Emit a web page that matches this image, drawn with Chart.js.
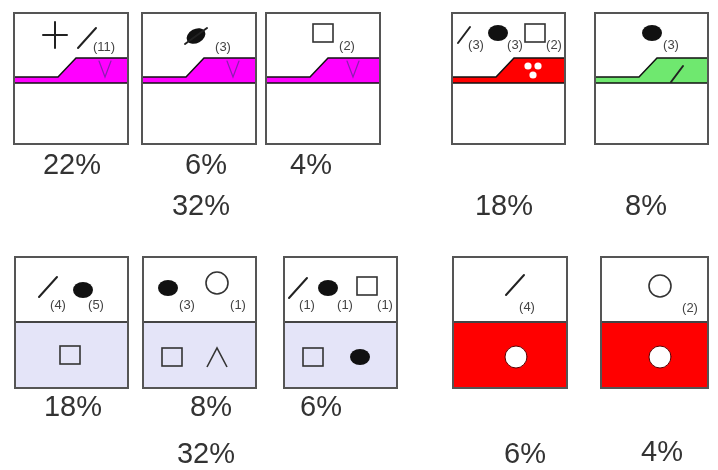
<!DOCTYPE html>
<html lang="en">
<head>
<meta charset="UTF-8">
<title>Panels</title>
<script src="https://cdn.jsdelivr.net/npm/chart.js"></script>
<style>
  html, body { margin: 0; padding: 0; background: #fff; }
  #wrap { width: 718px; height: 470px; }
</style>
</head>
<body>
<div id="wrap"><canvas id="chart"></canvas></div>
<script>
// values (one entry per panel, left to right, top row first)
const shares = [22, 6, 4, 18, 8, 18, 8, 6, 6, 4];
const groupTotals = [32, 32];
const upperMarks = [['plus', 'slash'], ['seed'], ['square'], ['slash', 'dot', 'square'], ['dot'],
                    ['slash', 'dot'], ['dot', 'ring'], ['slash', 'dot', 'square'], ['slash'], ['ring']];
const upperCounts = [[null, 11], [3], [2], [3, 3, 2], [3],
                     [4, 5], [3, 1], [1, 1, 1], [4], [2]];
const lowerMarks = [['vee'], ['vee'], ['vee'], ['triad'], ['slash'],
                    ['square'], ['square', 'caret'], ['square', 'dot'], ['hole'], ['hole']];

// layout (scale units = pixels of the 718x470 frame)
const boxes = [
  [14, 128, 13, 144], [142, 256, 13, 144], [266, 380, 13, 144], [452, 565, 13, 144], [595, 708, 13, 144],
  [15, 128, 257, 388], [143, 256, 257, 388], [284, 397, 257, 388], [453, 567, 257, 388], [601, 708, 257, 388]
];
const kinds = ['band', 'band', 'band', 'band', 'band', 'split', 'split', 'split', 'split', 'split'];
const fills = ['#ff00ff', '#ff00ff', '#ff00ff', '#ff0000', '#6fe86f',
               '#e4e4f8', '#e4e4f8', '#e4e4f8', '#ff0000', '#ff0000'];
const upperPos = [
  [[55, 35], [87, 38]], [[196, 36]], [[323, 33]], [[464, 35], [498, 33], [535, 33]], [[652, 33]],
  [[48, 287], [83, 290]], [[168, 288], [217, 283]], [[298, 288], [328, 288], [367, 286]], [[515, 285]], [[660, 286]]
];
const countPos = [
  [null, [104, 47]], [[223, 47]], [[347, 46]], [[476, 45], [515, 45], [554, 45]], [[671, 45]],
  [[58, 305], [96, 305]], [[187, 305], [238, 305]], [[307, 305], [345, 305], [385, 305]], [[527, 307]], [[690, 308]]
];
const lowerPos = [
  [[105, 69]], [[233, 69]], [[353, 69]], [[533, 69]], [[677, 74]],
  [[70, 355]], [[172, 357], [217, 357]], [[313, 357], [360, 357]], [[516, 357]], [[660, 357]]
];
const sharePos = [[72, 166], [206, 166], [311, 166], [504, 207], [646, 207],
                  [73, 408], [211, 408], [321, 408], [525, 455], [662, 453]];
const totalPos = [[201, 207], [206, 455]];

const panelsPlugin = {
  id: 'panels',
  afterDraw(chart) {
    const ctx = chart.ctx;
    const xs = chart.scales.x, ys = chart.scales.y;
    const X = v => xs.getPixelForValue(v);
    const Y = v => ys.getPixelForValue(v);
    const ink = '#222';

    function drawMark(type, p, small) {
      const cx = X(p[0]), cy = Y(p[1]);
      ctx.save();
      ctx.lineCap = 'round';
      ctx.strokeStyle = ink;
      ctx.fillStyle = '#111';
      ctx.lineWidth = 1.6;
      if (type === 'plus') {
        ctx.lineWidth = 2;
        ctx.beginPath();
        ctx.moveTo(cx - 12, cy); ctx.lineTo(cx + 12, cy);
        ctx.moveTo(cx, cy - 13); ctx.lineTo(cx, cy + 13);
        ctx.stroke();
      } else if (type === 'slash') {
        const hx = small ? 6 : 9, hy = small ? 8 : 10;
        ctx.lineWidth = 2;
        ctx.beginPath();
        ctx.moveTo(cx - hx, cy + hy); ctx.lineTo(cx + hx, cy - hy);
        ctx.stroke();
      } else if (type === 'dot') {
        ctx.beginPath();
        ctx.ellipse(cx, cy, 10, 8, 0, 0, Math.PI * 2);
        ctx.fill();
      } else if (type === 'ring') {
        ctx.strokeStyle = '#333';
        ctx.beginPath();
        ctx.arc(cx, cy, 11, 0, Math.PI * 2);
        ctx.stroke();
      } else if (type === 'square') {
        ctx.strokeStyle = '#333';
        ctx.strokeRect(cx - 10, cy - 9, 20, 18);
      } else if (type === 'seed') {
        ctx.beginPath();
        ctx.ellipse(cx, cy, 10, 7, -0.5, 0, Math.PI * 2);
        ctx.fill();
        ctx.lineWidth = 2;
        ctx.beginPath();
        ctx.moveTo(cx - 11, cy + 8); ctx.lineTo(cx + 11, cy - 8);
        ctx.stroke();
      } else if (type === 'vee') {
        ctx.strokeStyle = '#8a1fb0';
        ctx.lineWidth = 1.2;
        ctx.beginPath();
        ctx.moveTo(cx - 6, cy - 8); ctx.lineTo(cx, cy + 8); ctx.lineTo(cx + 6, cy - 8);
        ctx.stroke();
      } else if (type === 'triad') {
        ctx.fillStyle = '#fff';
        [[-5, -3], [5, -3], [0, 6]].forEach(d => {
          ctx.beginPath();
          ctx.arc(cx + d[0], cy + d[1], 3.6, 0, Math.PI * 2);
          ctx.fill();
        });
      } else if (type === 'hole') {
        ctx.fillStyle = '#fff';
        ctx.strokeStyle = '#5a0000';
        ctx.lineWidth = 1;
        ctx.beginPath();
        ctx.arc(cx, cy, 11, 0, Math.PI * 2);
        ctx.fill();
        ctx.stroke();
      } else if (type === 'caret') {
        ctx.strokeStyle = '#333';
        ctx.lineCap = 'butt';
        ctx.beginPath();
        ctx.moveTo(cx - 10, cy + 10); ctx.lineTo(cx, cy - 9); ctx.lineTo(cx + 10, cy + 10);
        ctx.stroke();
      }
      ctx.restore();
    }

    boxes.forEach((b, i) => {
      const x0 = X(b[0]), x1 = X(b[1]), y0 = Y(b[2]), y1 = Y(b[3]);
      ctx.save();
      ctx.fillStyle = '#fff';
      ctx.fillRect(x0, y0, x1 - x0, y1 - y0);

      if (kinds[i] === 'band') {
        const base = Y(b[2] + 70), low = Y(b[2] + 64), high = Y(b[2] + 45);
        const s0 = X(b[0] + 44), s1 = X(b[0] + 62);
        ctx.fillStyle = fills[i];
        ctx.beginPath();
        ctx.moveTo(x0, low); ctx.lineTo(s0, low); ctx.lineTo(s1, high); ctx.lineTo(x1, high);
        ctx.lineTo(x1, base); ctx.lineTo(x0, base); ctx.closePath();
        ctx.fill();
        ctx.strokeStyle = '#111';
        ctx.lineWidth = 1.5;
        ctx.beginPath();
        ctx.moveTo(x0, low); ctx.lineTo(s0, low); ctx.lineTo(s1, high); ctx.lineTo(x1, high);
        ctx.moveTo(x0, base); ctx.lineTo(x1, base);
        ctx.stroke();
      } else {
        const mid = Y(b[2] + 65);
        ctx.fillStyle = fills[i];
        ctx.fillRect(x0, mid, x1 - x0, y1 - mid);
        ctx.strokeStyle = '#444';
        ctx.lineWidth = 2;
        ctx.beginPath();
        ctx.moveTo(x0, mid); ctx.lineTo(x1, mid);
        ctx.stroke();
      }

      ctx.strokeStyle = '#555';
      ctx.lineWidth = 2;
      ctx.strokeRect(x0, y0, x1 - x0, y1 - y0);
      ctx.restore();

      upperMarks[i].forEach((m, k) => drawMark(m, upperPos[i][k], i === 3 && m === 'slash'));
      lowerMarks[i].forEach((m, k) => {
        if (m === 'slash') {
          drawMark(m, lowerPos[i][k], true);
        } else {
          drawMark(m, lowerPos[i][k]);
        }
      });

      ctx.save();
      ctx.fillStyle = '#444';
      ctx.font = '13px "Liberation Sans", Arial, sans-serif';
      ctx.textAlign = 'center';
      ctx.textBaseline = 'middle';
      upperCounts[i].forEach((c, k) => {
        if (c === null) return;
        const p = countPos[i][k];
        ctx.fillText('(' + c + ')', X(p[0]), Y(p[1]));
      });
      ctx.restore();
    });

    ctx.save();
    ctx.fillStyle = '#333';
    ctx.font = '29px "Liberation Sans", Arial, sans-serif';
    ctx.textAlign = 'center';
    ctx.textBaseline = 'middle';
    shares.forEach((v, i) => ctx.fillText(v + '%', X(sharePos[i][0]), Y(sharePos[i][1])));
    groupTotals.forEach((v, i) => ctx.fillText(v + '%', X(totalPos[i][0]), Y(totalPos[i][1])));
    ctx.restore();
  }
};

new Chart(document.getElementById('chart'), {
  type: 'scatter',
  data: { datasets: [] },
  options: {
    responsive: true,
    maintainAspectRatio: false,
    animation: false,
    layout: { padding: 0 },
    plugins: { legend: { display: false }, tooltip: { enabled: false } },
    scales: {
      x: { type: 'linear', min: 0, max: 718, display: false },
      y: { type: 'linear', min: 0, max: 470, reverse: true, display: false }
    }
  },
  plugins: [panelsPlugin]
});
</script>
</body>
</html>
